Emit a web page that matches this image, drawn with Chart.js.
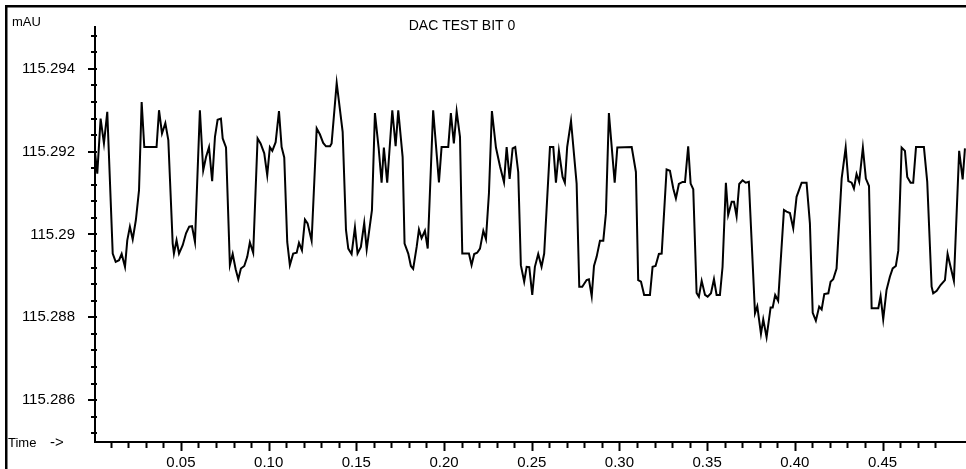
<!DOCTYPE html>
<html>
<head>
<meta charset="utf-8">
<script src="https://cdn.jsdelivr.net/npm/chart.js@4/dist/chart.umd.min.js"></script>
<style>
  html, body { margin: 0; padding: 0; background: #fff; }
  canvas { display: block; }
</style>
</head>
<body>
<canvas id="myChart" width="966" height="469"></canvas>
<script>
// signal trace: time (min) and detector value (mAU)
var times = [
  0.0010, 0.0023, 0.0042, 0.0061, 0.0080, 0.0111, 0.0128, 0.0147, 0.0162, 0.0181,
  0.0194, 0.0209, 0.0225, 0.0243, 0.0261, 0.0276, 0.0291, 0.0361, 0.0375, 0.0392,
  0.0411, 0.0428, 0.0453, 0.0460, 0.0475, 0.0489, 0.0510, 0.0529, 0.0547, 0.0563,
  0.0580, 0.0608, 0.0627, 0.0643, 0.0660, 0.0678, 0.0694, 0.0709, 0.0728, 0.0738,
  0.0757, 0.0779, 0.0795, 0.0812, 0.0827, 0.0842, 0.0861, 0.0878, 0.0893, 0.0912,
  0.0937, 0.0954, 0.0975, 0.0992, 0.1007, 0.1021, 0.1040, 0.1059, 0.1074, 0.1089,
  0.1106, 0.1121, 0.1140, 0.1160, 0.1173, 0.1190, 0.1207, 0.1222, 0.1245, 0.1274,
  0.1292, 0.1311, 0.1327, 0.1350, 0.1359, 0.1388, 0.1422, 0.1441, 0.1454, 0.1473,
  0.1492, 0.1507, 0.1526, 0.1545, 0.1559, 0.1589, 0.1606, 0.1627, 0.1644, 0.1657,
  0.1676, 0.1705, 0.1724, 0.1739, 0.1764, 0.1775, 0.1796, 0.1811, 0.1824, 0.1844,
  0.1857, 0.1872, 0.1891, 0.1907, 0.1938, 0.1971, 0.1986, 0.2024, 0.2039, 0.2056,
  0.2072, 0.2091, 0.2104, 0.2142, 0.2157, 0.2172, 0.2189, 0.2205, 0.2224, 0.2239,
  0.2256, 0.2273, 0.2296, 0.2319, 0.2342, 0.2357, 0.2374, 0.2391, 0.2406, 0.2423,
  0.2438, 0.2457, 0.2471, 0.2486, 0.2503, 0.2518, 0.2537, 0.2556, 0.2571, 0.2604,
  0.2623, 0.2638, 0.2655, 0.2676, 0.2689, 0.2702, 0.2724, 0.2756, 0.2771, 0.2788,
  0.2813, 0.2826, 0.2842, 0.2855, 0.2870, 0.2889, 0.2908, 0.2923, 0.2940, 0.2973,
  0.2988, 0.3070, 0.3094, 0.3107, 0.3123, 0.3141, 0.3174, 0.3189, 0.3206, 0.3225,
  0.3241, 0.3269, 0.3288, 0.3307, 0.3322, 0.3339, 0.3360, 0.3374, 0.3392, 0.3406,
  0.3421, 0.3440, 0.3453, 0.3469, 0.3488, 0.3503, 0.3522, 0.3539, 0.3554, 0.3573,
  0.3588, 0.3607, 0.3620, 0.3640, 0.3653, 0.3668, 0.3683, 0.3702, 0.3720, 0.3738,
  0.3773, 0.3786, 0.3807, 0.3820, 0.3839, 0.3862, 0.3874, 0.3888, 0.3905, 0.3938,
  0.3953, 0.3972, 0.3991, 0.4010, 0.4039, 0.4067, 0.4086, 0.4102, 0.4120, 0.4139,
  0.4153, 0.4168, 0.4191, 0.4204, 0.4219, 0.4238, 0.4267, 0.4290, 0.4305, 0.4324,
  0.4337, 0.4352, 0.4367, 0.4388, 0.4405, 0.4423, 0.4438, 0.4476, 0.4489, 0.4504,
  0.4523, 0.4542, 0.4558, 0.4576, 0.4590, 0.4609, 0.4628, 0.4641, 0.4660, 0.4675,
  0.4691, 0.4736, 0.4755, 0.4780, 0.4789, 0.4809, 0.4831, 0.4856, 0.4871, 0.4888,
  0.4907, 0.4937, 0.4957, 0.4970
];
var values = [
  115.29199, 115.29147, 115.29280, 115.29220, 115.29296, 115.28954, 115.28934, 115.28938, 115.28953, 115.28922,
  115.28986, 115.29019, 115.28988, 115.29035, 115.29107, 115.29320, 115.29211, 115.29211, 115.29300, 115.29244,
  115.29269, 115.29228, 115.28978, 115.28954, 115.28986, 115.28954, 115.28974, 115.29003, 115.29019, 115.29020,
  115.28982, 115.29300, 115.29155, 115.29187, 115.29211, 115.29129, 115.29236, 115.29277, 115.29280, 115.29232,
  115.29210, 115.28926, 115.28953, 115.28916, 115.28892, 115.28918, 115.28924, 115.28946, 115.28981, 115.28956,
  115.29232, 115.29220, 115.29196, 115.29143, 115.29211, 115.29202, 115.29223, 115.29298, 115.29211, 115.29186,
  115.28982, 115.28926, 115.28954, 115.28956, 115.28980, 115.28962, 115.29036, 115.29027, 115.28985, 115.29256,
  115.29242, 115.29221, 115.29213, 115.29213, 115.29220, 115.29366, 115.29248, 115.29011, 115.28966, 115.28953,
  115.29017, 115.28954, 115.28970, 115.29028, 115.28964, 115.29059, 115.29293, 115.29210, 115.29125, 115.29210,
  115.29125, 115.29300, 115.29213, 115.29300, 115.29187, 115.28978, 115.28954, 115.28924, 115.28917, 115.28970,
  115.29012, 115.28991, 115.29009, 115.28966, 115.29300, 115.29126, 115.29211, 115.29211, 115.29293, 115.29220,
  115.29297, 115.29236, 115.28954, 115.28954, 115.28926, 115.28953, 115.28956, 115.28966, 115.29009, 115.28989,
  115.29099, 115.29298, 115.29210, 115.29165, 115.29126, 115.29211, 115.29134, 115.29208, 115.29211, 115.29151,
  115.28926, 115.28886, 115.28922, 115.28921, 115.28854, 115.28922, 115.28953, 115.28922, 115.28954, 115.29211,
  115.29211, 115.29125, 115.29202, 115.29139, 115.29125, 115.29211, 115.29274, 115.29123, 115.28874, 115.28874,
  115.28890, 115.28892, 115.28851, 115.28924, 115.28946, 115.28985, 115.28985, 115.29051, 115.29293, 115.29125,
  115.29210, 115.29211, 115.29151, 115.28890, 115.28886, 115.28854, 115.28854, 115.28922, 115.28924, 115.28953,
  115.28954, 115.29157, 115.29154, 115.29111, 115.29087, 115.29122, 115.29127, 115.29127, 115.29213, 115.29123,
  115.29109, 115.28859, 115.28850, 115.28888, 115.28854, 115.28850, 115.28858, 115.28892, 115.28854, 115.28854,
  115.28922, 115.29125, 115.29047, 115.29079, 115.29079, 115.29044, 115.29122, 115.29131, 115.29125, 115.29127,
  115.28810, 115.28827, 115.28760, 115.28795, 115.28752, 115.28824, 115.28824, 115.28854, 115.28840, 115.29059,
  115.29055, 115.29052, 115.29015, 115.29091, 115.29125, 115.29125, 115.29027, 115.28811, 115.28792, 115.28826,
  115.28819, 115.28856, 115.28858, 115.28886, 115.28892, 115.28918, 115.29135, 115.29210, 115.29129, 115.29125,
  115.29111, 115.29146, 115.29127, 115.29210, 115.29135, 115.29117, 115.28822, 115.28822, 115.28851, 115.28795,
  115.28866, 115.28898, 115.28918, 115.28924, 115.28961, 115.29210, 115.29202, 115.29139, 115.29125, 115.29125,
  115.29211, 115.29211, 115.29127, 115.28874, 115.28858, 115.28864, 115.28878, 115.28890, 115.28953, 115.28922,
  115.28888, 115.29202, 115.29133, 115.29208
];
var xRange = [0.001, 0.4976];
var yRange = [115.28499, 115.29501];
var xStep = 0.01, yStep = 0.0004;

var FONT = "'Liberation Sans', Arial, sans-serif";

function isMajorX(v) { return Math.round(v * 100) % 5 === 0; }
function isMajorY(v) { return Math.round(v * 10000) % 20 === 0; }

var points = times.map(function (t, i) { return { x: t, y: values[i] }; });

// frame, tick marks and the free texts
var decorations = {
  id: 'decorations',
  afterDraw: function (chart) {
    var ctx = chart.ctx, xs = chart.scales.x, ys = chart.scales.y;
    ctx.save();
    ctx.strokeStyle = '#000';
    ctx.lineWidth = 2.5;
    ctx.beginPath();
    ctx.moveTo(6.25, 469);
    ctx.lineTo(6.25, 6.25);
    ctx.lineTo(966, 6.25);
    ctx.stroke();

    ctx.lineWidth = 2;
    ctx.beginPath();
    xs.ticks.forEach(function (t) {
      var px = Math.round(xs.getPixelForValue(t.value)) + 0.5;
      ctx.moveTo(px, xs.top);
      ctx.lineTo(px, xs.top + (isMajorX(t.value) ? 9 : 6));
    });
    ys.ticks.forEach(function (t) {
      var py = Math.round(ys.getPixelForValue(t.value));
      ctx.moveTo(ys.right - (isMajorY(t.value) ? 7 : 4), py);
      ctx.lineTo(ys.right + 2, py);
    });
    ctx.stroke();

    ctx.fillStyle = '#000';
    ctx.textBaseline = 'alphabetic';
    ctx.textAlign = 'left';
    ctx.font = '13px ' + FONT;
    ctx.fillText('mAU', 12, 26);
    ctx.fillText('Time', 8, 447);
    ctx.font = '15px ' + FONT;
    ctx.fillText('->', 50, 447);
    ctx.font = '14px ' + FONT;
    ctx.textAlign = 'center';
    ctx.fillText('DAC TEST BIT 0', 462, 30);
    ctx.restore();
  }
};

var ctx = document.getElementById('myChart').getContext('2d');
var myChart = new Chart(ctx, {
  type: 'line',
  data: {
    datasets: [{
      data: points,
      borderColor: '#000',
      borderWidth: 2,
      pointRadius: 0,
      tension: 0,
      fill: false
    }]
  },
  options: {
    responsive: false,
    devicePixelRatio: 1,
    animation: false,
    layout: { padding: { top: 27, left: 0, right: 0, bottom: 0 } },
    plugins: {
      legend: { display: false },
      tooltip: { enabled: false },
      title: { display: false }
    },
    scales: {
      x: {
        type: 'linear',
        min: xRange[0],
        max: xRange[1],
        afterFit: function (s) { s.height = 27; },
        afterBuildTicks: function (s) {
          s.ticks = s.ticks.filter(function (t) { return t.value < 0.485; });
        },
        grid: { drawOnChartArea: false, drawTicks: true, tickLength: 9, tickColor: 'rgba(0,0,0,0)' },
        border: { display: true, color: '#000', width: 2 },
        ticks: {
          stepSize: xStep,
          includeBounds: false,
          autoSkip: false,
          maxRotation: 0,
          padding: 3,
          color: '#000',
          font: { family: FONT, size: 15 },
          callback: function (v) { return isMajorX(v) ? v.toFixed(2) : ''; }
        }
      },
      y: {
        type: 'linear',
        min: yRange[0],
        max: yRange[1],
        afterFit: function (s) { s.width = 95; },
        grid: { drawOnChartArea: false, drawTicks: true, tickLength: 8, tickColor: 'rgba(0,0,0,0)' },
        border: { display: true, color: '#000', width: 2 },
        ticks: {
          stepSize: yStep,
          includeBounds: false,
          autoSkip: false,
          padding: 12,
          color: '#000',
          font: { family: FONT, size: 15 },
          callback: function (v) { return isMajorY(v) ? String(Number(v.toFixed(3))) : ''; }
        }
      }
    }
  },
  plugins: [decorations]
});
</script>
</body>
</html>
